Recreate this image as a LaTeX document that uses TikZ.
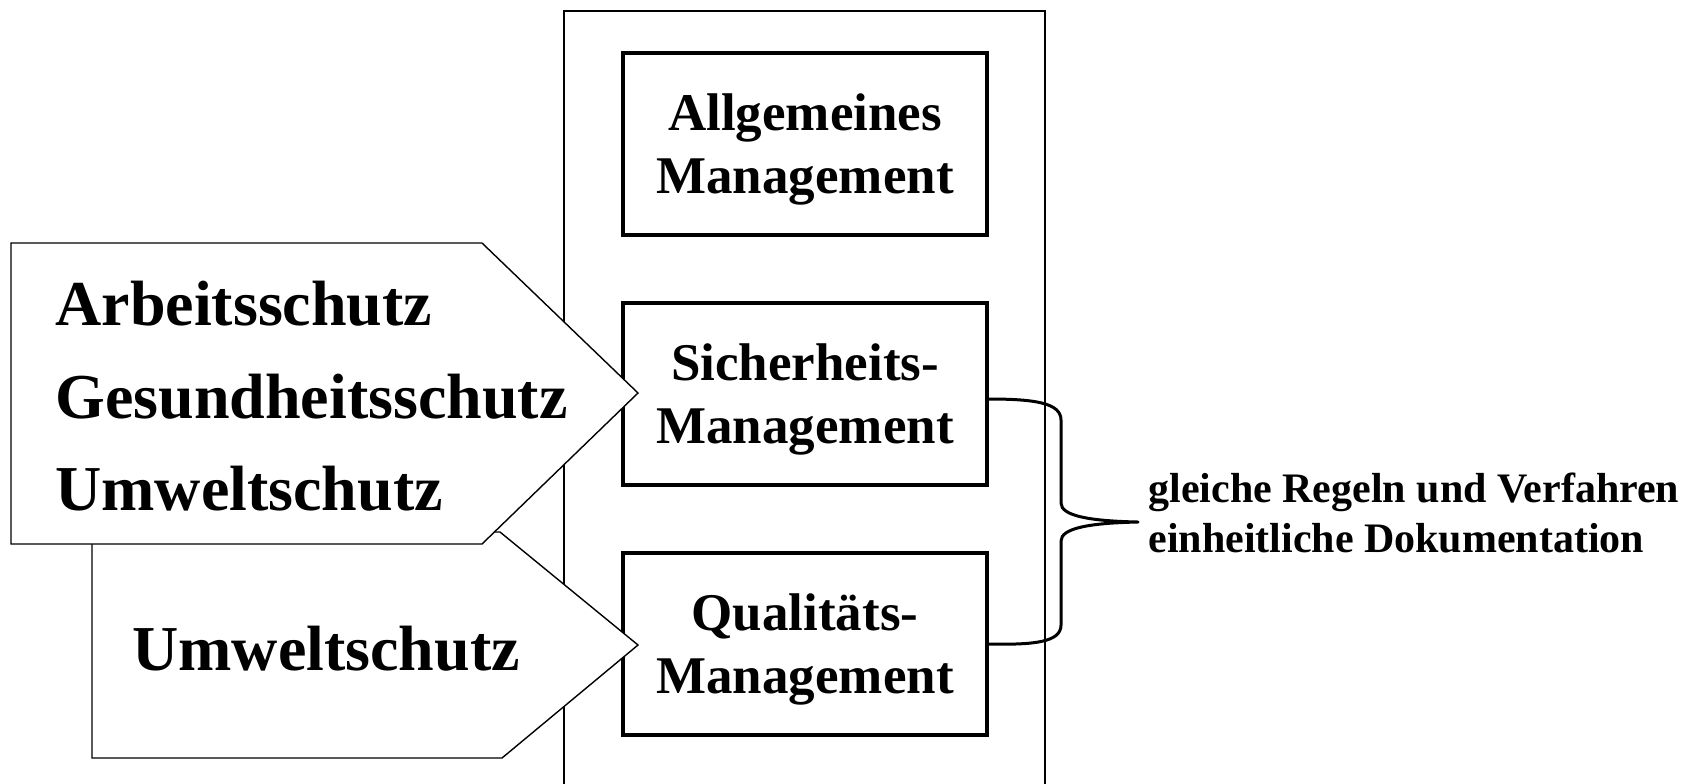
\documentclass[tikz,border=0pt]{standalone}
\usepackage{fontspec}
\setmainfont{Liberation Serif}
\newcommand{\nodepth}[1]{\raisebox{0pt}[\height][0pt]{#1}}
\begin{document}
\begin{tikzpicture}[x=0.5pt,y=-0.5pt,
  thin line/.style={line width=0.7pt},
  mgmt/.style={draw, line width=1.6pt, fill=white, minimum width=182pt, minimum height=91pt,
    inner sep=0pt, align=center, font=\bfseries\fontsize{26.5}{31.5}\selectfont},
  arrowshape/.style={draw, thin line, fill=white, line join=miter},
  bigtext/.style={anchor=base west, inner sep=0pt, font=\bfseries\fontsize{32}{46}\selectfont},
  sidetext/.style={anchor=base west, inner sep=0pt, font=\bfseries\fontsize{21}{25}\selectfont},
  brace/.style={line width=1.5pt, line join=round}]
\useasboundingbox (0,0) rectangle (1706,783);
% outer frame (open at the bottom)
\coordinate (fbl) at (564,790);
\coordinate (ftl) at (564,11);
\coordinate (ftr) at (1045,11);
\coordinate (fbr) at (1045,790);
\draw[thin line] (fbl) -- (ftl) -- (ftr) -- (fbr);
% management boxes
\node[mgmt] (allg) at (805,144) {Allgemeines\\\nodepth{Management}};
\node[mgmt] (sich) at (805,394) {Sicherheits-\\\nodepth{Management}};
\node[mgmt] (qual) at (805,644) {Qualitäts-\\\nodepth{Management}};
% lower arrow
\coordinate (b1) at (92,532);
\coordinate (b2) at (500,532);
\coordinate (btip) at (638,645);
\coordinate (b3) at (502,758);
\coordinate (b4) at (92,758);
\draw[arrowshape] (b1) -- (b2) -- (btip) -- (b3) -- (b4) -- cycle;
% upper arrow
\coordinate (a1) at (11,243);
\coordinate (a2) at (482,243);
\coordinate (atip) at (638,393);
\coordinate (a3) at (482,544);
\coordinate (a4) at (11,544);
\draw[arrowshape] (a1) -- (a2) -- (atip) -- (a3) -- (a4) -- cycle;
% arrow texts
\node[bigtext] (t1) at (55,325) {Arbeitsschutz};
\node[bigtext] (t2) at (55,418) {Gesundheitsschutz};
\node[bigtext] (t3) at (55,510) {Umweltschutz};
\node[bigtext] (t4) at (132,670) {Umweltschutz};
% brace
\coordinate (tip) at (1138,522);
\draw[brace] ([yshift=-2.5pt]sich.east) .. controls (1035,399) and (1061,403) .. (1061,420)
  -- (1061,503) .. controls (1061,516) and (1090,521) .. (tip)
  .. controls (1090,523) and (1061,528) .. (1061,541)
  -- (1061,625) .. controls (1061,642) and (1035,645) .. (qual.east);
% side text
\node[sidetext] (s1) at (1148,502) {gleiche Regeln und Verfahren};
\node[sidetext] (s2) at (1148,552) {einheitliche Dokumentation};
\end{tikzpicture}
\end{document}
